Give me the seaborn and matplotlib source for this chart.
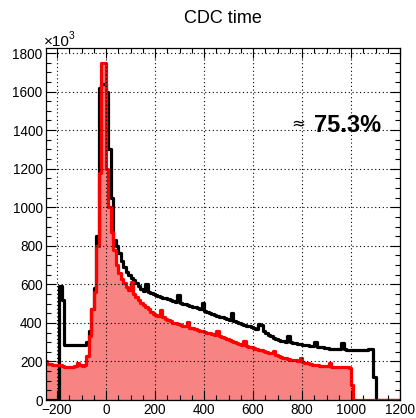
import numpy as np
import pandas as pd
import seaborn as sns
import matplotlib
matplotlib.use("Agg")
import matplotlib.pyplot as plt
from matplotlib.ticker import MultipleLocator

# ---------------- data (values in units of 10^3) ----------------
bin_start = -250
bin_width = 10
n_bins = 145

black_counts = [
    0, 0, 0, 0, 0, 0, 590, 520, 285, 285,            # -250 .. -160
    285, 285, 285, 285, 285, 285, 285, 300, 360, 470,  # -150 .. -60
    580, 850, 1620, 1640, 1640, 1600, 1300, 1050, 830, 800,  # -50 .. 40
    760, 720, 690, 665, 650, 635, 620, 605, 590, 575,  # 50 .. 140
    568, 600, 560, 555, 550, 545, 540, 535, 530, 527,  # 150 .. 240
    524, 520, 515, 510, 545, 505, 500, 496, 492, 488,  # 250 .. 340
    484, 480, 476, 472, 505, 462, 458, 453, 448, 443,  # 350 .. 440
    436, 432, 428, 424, 420, 416, 450, 410, 405, 400,  # 450 .. 540
    394, 390, 386, 382, 378, 374, 370, 392, 388, 360,  # 550 .. 640
    345, 338, 330, 322, 316, 312, 308, 305, 303, 332,  # 650 .. 740
    300, 297, 294, 291, 289, 287, 285, 283, 281, 279,  # 750 .. 840
    303, 277, 275, 273, 271, 269, 267, 266, 265, 264,  # 850 .. 940
    263, 296, 262, 261, 261, 260, 260, 260, 260, 259,  # 950 .. 1040
    259, 259, 262, 262, 120, 0, 0, 0, 0, 0,            # 1050 .. 1140
    0, 0, 0, 0, 0,                                     # 1150 .. 1190
]

red_counts = [
    200, 188, 185, 183, 182, 182, 180, 178, 173, 172,  # -250 .. -160
    172, 173, 175, 192, 180, 178, 180, 230, 330, 470,  # -150 .. -60
    560, 800, 1180, 1750, 1750, 1200, 1000, 870, 780, 700,  # -50 .. 40
    660, 630, 605, 585, 570, 610, 550, 535, 520, 505,  # 50 .. 140
    495, 485, 470, 455, 448, 442, 436, 465, 428, 422,  # 150 .. 240
    415, 408, 402, 398, 394, 390, 386, 382, 404, 376,  # 250 .. 340
    372, 368, 364, 360, 357, 354, 350, 346, 342, 338,  # 350 .. 440
    360, 330, 325, 320, 315, 310, 305, 300, 296, 292,  # 450 .. 540
    287, 306, 281, 277, 273, 269, 265, 261, 257, 253,  # 550 .. 640
    249, 246, 243, 256, 234, 228, 224, 220, 217, 214,  # 650 .. 740
    210, 207, 205, 203, 218, 196, 193, 190, 187, 184,  # 750 .. 840
    182, 180, 178, 176, 175, 174, 190, 173, 172, 171,  # 850 .. 940
    170, 170, 169, 169, 168, 80, 0, 0, 0, 0,           # 950 .. 1040
    0, 0, 0, 0, 0, 0, 0, 0, 0, 0,                      # 1050 .. 1140
    0, 0, 0, 0, 0,                                     # 1150 .. 1190
]

x_ticks = [-200, 0, 200, 400, 600, 800, 1000, 1200]
y_ticks = [0, 200, 400, 600, 800, 1000, 1200, 1400, 1600, 1800]
title_text = "CDC time"
annotation_text = "75.3%"

# ---------------- figure ----------------
bin_end = bin_start + bin_width * n_bins
centers = bin_start + bin_width * (np.arange(n_bins) + 0.5)
df = pd.DataFrame({"t": centers, "black": black_counts, "red": red_counts})

sns.set_style("ticks")
plt.rcParams["font.family"] = ["Liberation Sans", "DejaVu Sans"]
plt.rcParams["text.color"] = "black"

W, H = 416, 418
fig = plt.figure(figsize=(W / 100, H / 100), dpi=100)
ax_l, ax_r, ax_t, ax_b = 46, 400, 48, 400
ax = fig.add_axes([ax_l / W, (H - ax_b) / H, (ax_r - ax_l) / W, (ax_b - ax_t) / H])

hist_kw = dict(data=df, x="t", binwidth=bin_width, binrange=(bin_start, bin_end),
               element="step", ax=ax)
sns.histplot(weights="black", fill=False, color="black", linewidth=2.3, **hist_kw)
sns.histplot(weights="red", fill=True, color="#f88383", alpha=1.0, linewidth=0, **hist_kw)
sns.histplot(weights="red", fill=False, color="#ff0000", linewidth=2.3, **hist_kw)

ax.set_xlim(-245, 1200)
ax.set_ylim(0, 1826)
ax.set_xlabel("")
ax.set_ylabel("")
ax.set_xticks(x_ticks)
ax.set_yticks(y_ticks)
ax.xaxis.set_minor_locator(MultipleLocator(50))
ax.yaxis.set_minor_locator(MultipleLocator(50))
ax.tick_params(which="both", direction="in", top=True, right=True,
               labelsize=9.8, colors="black", width=0.8)
ax.tick_params(which="major", length=7.5, pad=2.5)
ax.tick_params(which="minor", length=3.8)
for s in ax.spines.values():
    s.set_linewidth(0.9)
    s.set_color("black")
    s.set_visible(True)
ax.set_axisbelow(False)
ax.grid(True, which="major", linestyle=(0, (1, 2.4)), color="black", linewidth=0.8)

# title and annotations
fig.text(223 / W, 1 - 23 / H, title_text, ha="center", va="baseline",
         fontsize=13, color="black")
fig.text(44 / W, 1 - 46 / H, "\u00d710", ha="left", va="baseline",
         fontsize=11, color="black")
fig.text(69 / W, 1 - 39 / H, "3", ha="left", va="baseline",
         fontsize=7.5, color="black")
fig.text(291 / W, 1 - 128 / H, "\u2248", ha="left", va="baseline", fontsize=12,
         family=["DejaVu Sans"], color="black")
fig.text(314 / W, 1 - 132 / H, annotation_text, ha="left", va="baseline",
         fontsize=17, fontweight="bold", color="black")

fig.savefig("out.png", dpi=100)
